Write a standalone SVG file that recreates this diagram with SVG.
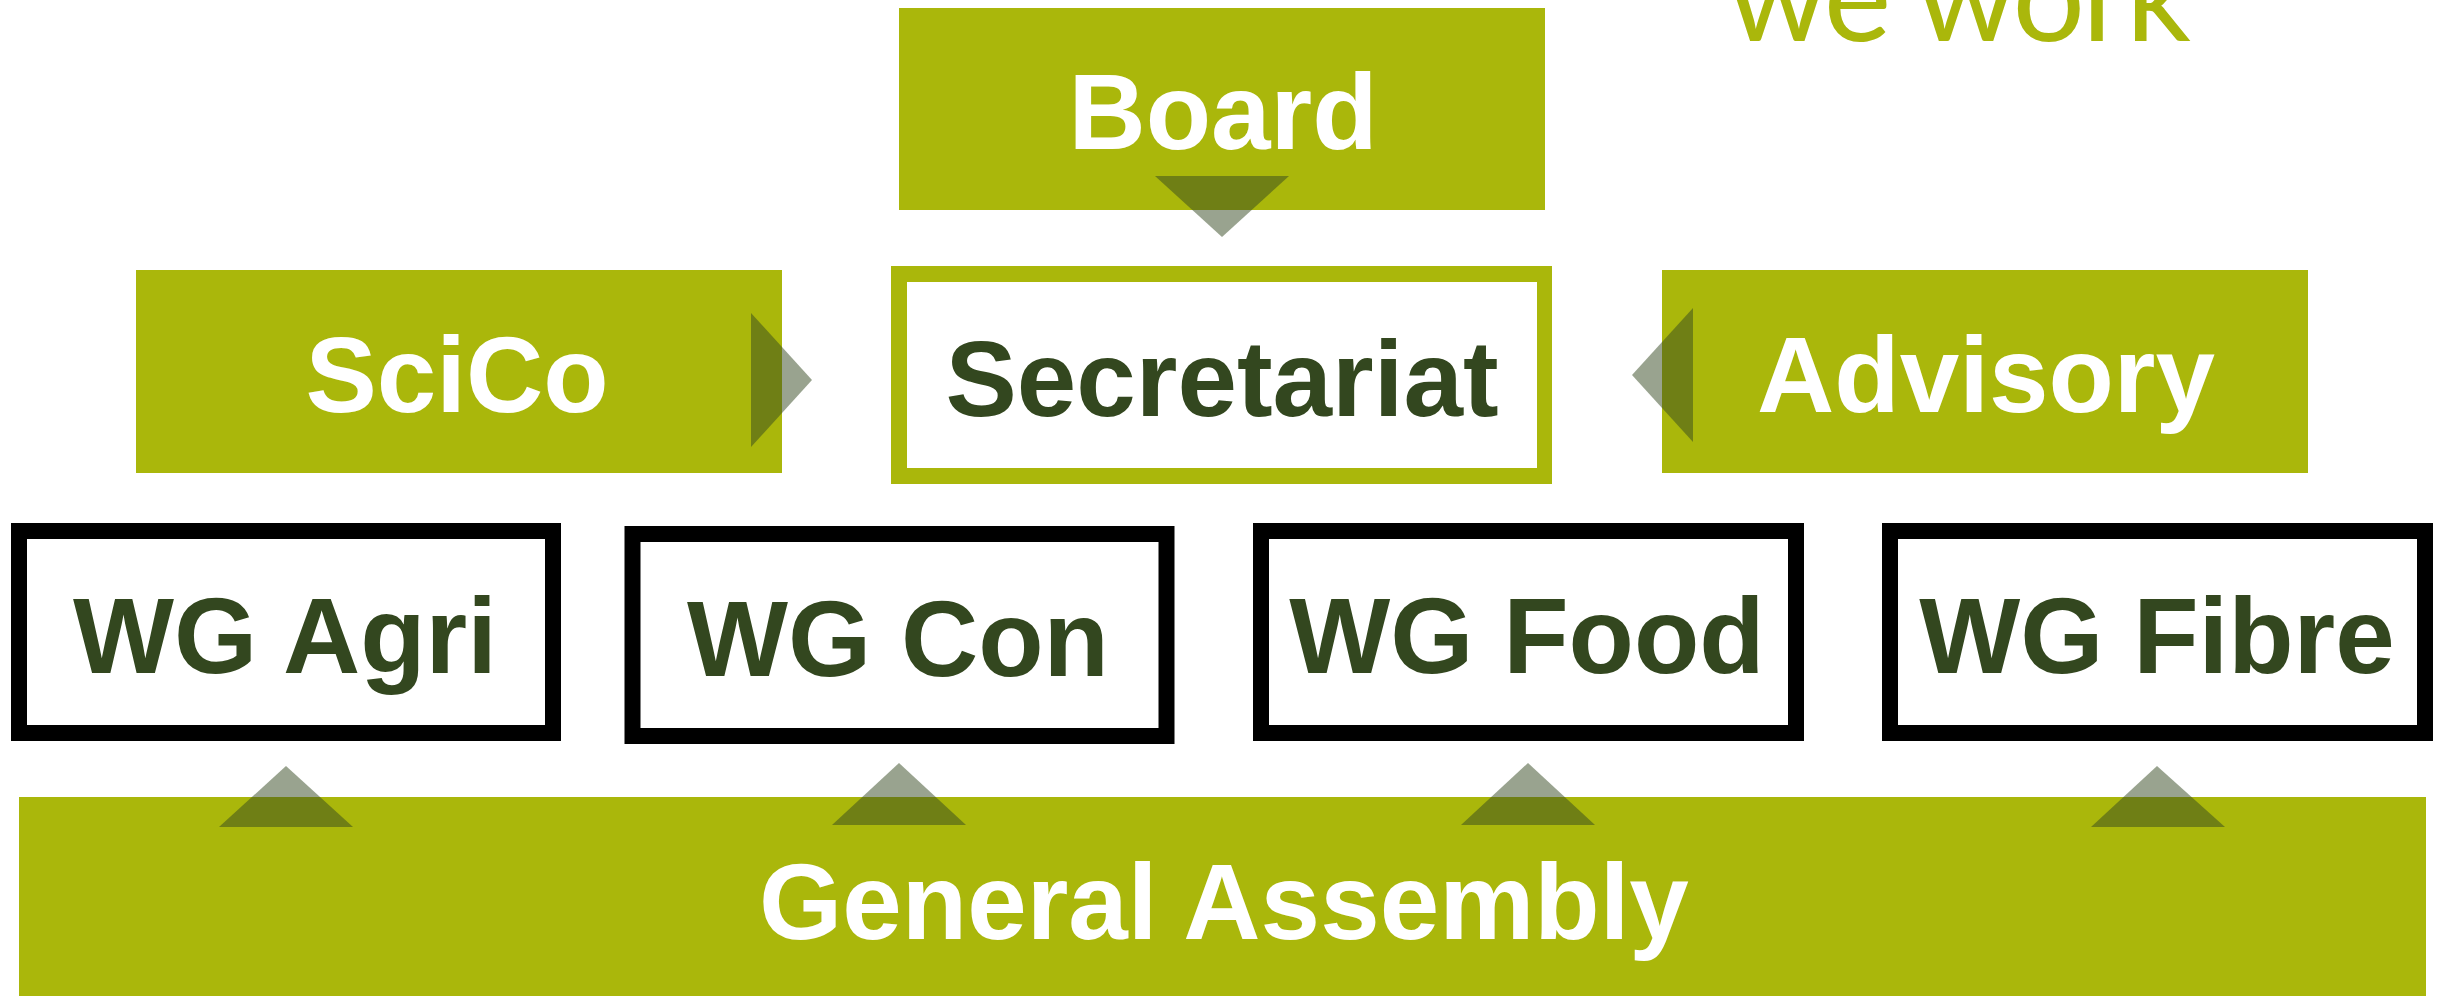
<svg xmlns="http://www.w3.org/2000/svg" width="2445" height="996" viewBox="0 0 2445 996">
<style>
.g{fill:#aab70b}
.lbl{font-family:"Liberation Sans",Arial,sans-serif;font-weight:bold;font-size:107px;text-anchor:middle}
.w{fill:#ffffff}
.d{fill:#33471f}
.wg{fill:#ffffff;stroke:#000000;stroke-width:16}
.arr{fill:#33481f;fill-opacity:0.5}
.title{font-family:Lato,"Open Sans","Liberation Sans",sans-serif;font-weight:400;font-size:128px;fill:#aab70b}
</style>
<rect width="2445" height="996" fill="#ffffff"/>
<text class="title" x="1727" y="41" textLength="464" lengthAdjust="spacing">we work</text>
<g id="board">
<rect class="g" x="899" y="8" width="646" height="202"/>
<text class="lbl w" x="1223" y="149">Board</text>
</g>
<g id="scico">
<rect class="g" x="136" y="270" width="646" height="203"/>
<text class="lbl w" x="457" y="412">SciCo</text>
</g>
<g id="secretariat">
<rect class="g" x="891" y="266" width="661" height="218"/>
<rect fill="#ffffff" x="907" y="282" width="630" height="186"/>
<text class="lbl d" x="1222" y="416">Secretariat</text>
</g>
<g id="advisory">
<rect class="g" x="1662" y="270" width="646" height="203"/>
<text class="lbl w" x="1986" y="412">Advisory</text>
</g>
<g id="wg-agri">
<rect class="wg" x="19" y="531" width="534" height="202"/>
<text class="lbl d" x="285" y="673">WG Agri</text>
</g>
<g id="wg-con">
<rect class="wg" x="632.5" y="534" width="534" height="202"/>
<text class="lbl d" x="898" y="676">WG Con</text>
</g>
<g id="wg-food">
<rect class="wg" x="1261" y="531" width="535" height="202"/>
<text class="lbl d" x="1527" y="673">WG Food</text>
</g>
<g id="wg-fibre">
<rect class="wg" x="1890" y="531" width="535" height="202"/>
<text class="lbl d" x="2157" y="673">WG Fibre</text>
</g>
<g id="general-assembly">
<rect class="g" x="19" y="797" width="2407" height="199"/>
<text class="lbl w" x="1224" y="939">General Assembly</text>
</g>
<g id="connectors">
<polygon class="arr" points="1155,176 1289,176 1222,237"/>
<polygon class="arr" points="751,313 751,447 812,380"/>
<polygon class="arr" points="1693,308 1693,442 1632,375"/>
<polygon class="arr" points="219,827 353,827 286,766"/>
<polygon class="arr" points="832,825 966,825 899,763"/>
<polygon class="arr" points="1461,825 1595,825 1528,763"/>
<polygon class="arr" points="2091,827 2225,827 2157,766"/>
</g>
</svg>
